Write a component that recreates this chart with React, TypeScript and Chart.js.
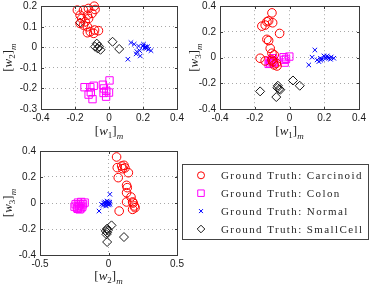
import React, { useEffect, useRef } from 'react';
import { Chart, registerables } from 'chart.js';

Chart.register(...registerables);

// ---------- data ----------
const classNames = ['Carcinoid', 'Colon', 'Normal', 'SmallCell'];
const legendPrefix = 'Ground Truth: ';

// Panel 1: [w1]m (x) vs [w2]m (y)
const carcinoidW1W2 = [
  [-0.087, 0.2], [-0.082, 0.184], [-0.121, 0.189], [-0.15, 0.181], [-0.186, 0.181],
  [-0.17, 0.156], [-0.127, 0.156], [-0.1, 0.165], [-0.16, 0.14], [-0.12, 0.14],
  [-0.14, 0.124], [-0.17, 0.116], [-0.15, 0.108], [-0.127, 0.1], [-0.11, 0.076],
  [-0.085, 0.084], [-0.062, 0.081], [-0.09, 0.068], [-0.127, 0.071],
];
const colonW1W2 = [
  [-0.144, -0.194], [-0.11, -0.194], [-0.09, -0.187], [-0.107, -0.219], [-0.12, -0.23],
  [-0.097, -0.252], [-0.036, -0.182], [-0.03, -0.2], [-0.016, -0.212], [-0.032, -0.222],
  [0.003, -0.161], [0.0, -0.22], [-0.017, -0.24],
];
const normalW1W2 = [
  [0.129, 0.023], [0.148, 0.015], [0.164, -0.021], [0.18, -0.016], [0.16, -0.032],
  [0.184, -0.042], [0.111, -0.058], [0.2, 0.006], [0.203, 0.015], [0.213, 0.003],
  [0.233, -0.01], [0.247, -0.016], [0.227, 0.003], [0.174, 0.006], [0.208, -0.004],
  [0.215, 0.0], [0.22, -0.004],
];
const smallCellW1W2 = [
  [-0.17, 0.12], [-0.072, 0.018], [-0.058, 0.004], [-0.082, 0.003], [-0.05, -0.012],
  [-0.066, -0.006], [0.021, 0.027], [0.06, -0.008],
];

// Panel 2: [w1]m (x) vs [w3]m (y)
const carcinoidW1W3 = [
  [-0.101, 0.348], [-0.14, 0.253], [-0.13, 0.279], [-0.12, 0.286], [-0.097, 0.271],
  [-0.159, 0.245], [-0.057, 0.188], [-0.13, 0.142], [-0.12, 0.132], [-0.111, 0.072],
  [-0.101, 0.034], [-0.088, 0.021], [-0.169, -0.005], [-0.14, -0.026], [-0.101, -0.018],
  [-0.076, -0.044], [-0.088, -0.057], [-0.072, -0.065], [-0.095, -0.031],
];
const colonW1W3 = [
  [-0.115, -0.023], [-0.111, -0.044], [-0.095, -0.005], [-0.088, -0.031], [-0.12, -0.049],
  [-0.034, 0.003], [-0.028, -0.039], [-0.03, -0.018], [-0.001, 0.008], [-0.1, -0.02],
  [-0.02, -0.01], [-0.09, -0.04], [-0.105, -0.03],
];
const normalW1W3 = [
  [0.146, 0.059], [0.111, -0.057], [0.13, 0.003], [0.159, -0.018], [0.169, -0.031],
  [0.178, -0.005], [0.198, 0.013], [0.207, 0.003], [0.217, 0.013], [0.226, -0.005],
  [0.236, -0.013], [0.255, -0.005], [0.188, -0.013], [0.21, -0.005], [0.22, 0.0],
  [0.18, -0.02], [0.24, 0.005],
];
const smallCellW1W3 = [
  [-0.169, -0.263], [-0.067, -0.219], [-0.053, -0.25], [-0.076, -0.307], [0.02, -0.178],
  [0.059, -0.219], [-0.07, -0.235], [-0.06, -0.245],
];

// Panel 3: [w2]m (x) vs [w3]m (y)
const carcinoidW2W3 = [
  [0.059, 0.354], [0.064, 0.272], [0.096, 0.285], [0.113, 0.29], [0.103, 0.264],
  [0.145, 0.233], [0.071, 0.195], [0.132, 0.136], [0.137, 0.118], [0.132, 0.079],
  [0.164, 0.046], [0.132, 0.008], [0.176, 0.008], [0.189, -0.023], [0.194, -0.036],
  [0.176, -0.049], [0.078, -0.062], [0.12, 0.27], [0.18, 0.0],
];
const colonW2W3 = [
  [-0.24, -0.01], [-0.223, 0.003], [-0.211, -0.01], [-0.199, 0.008], [-0.186, -0.01],
  [-0.23, -0.036], [-0.211, -0.049], [-0.191, -0.028], [-0.248, -0.028], [-0.216, -0.023],
  [-0.174, 0.003], [-0.225, -0.045], [-0.2, -0.04],
];
const normalW2W3 = [
  [0.01, 0.067], [-0.069, -0.062], [-0.051, -0.01], [-0.039, -0.018], [-0.02, -0.003],
  [-0.01, 0.003], [0.0, 0.008], [0.01, -0.01], [-0.02, -0.023], [-0.01, 0.015],
  [0.005, -0.003], [-0.027, 0.008], [-0.005, -0.008], [-0.015, -0.005], [0.0, -0.015],
  [-0.035, 0.0], [0.008, 0.005],
];
const smallCellW2W3 = [
  [0.022, -0.172], [-0.01, -0.197], [-0.02, -0.215], [-0.01, -0.228], [-0.015, -0.241],
  [-0.01, -0.3], [0.113, -0.262], [-0.005, -0.21],
];

// tick values
const w1Ticks = [-0.4, -0.2, 0, 0.2, 0.4];
const w2TicksPanel1 = [-0.3, -0.2, -0.1, 0, 0.1, 0.2];
const w3Ticks = [-0.4, -0.2, 0, 0.2, 0.4];
const w2TicksPanel3 = [-0.5, 0, 0.5];

// ---------- styles ----------
const markers = [
  { style: 'circle', radius: 4.3, legendRadius: 3.5, color: '#ff0000' },
  { style: 'rect', radius: 5.2, legendRadius: 4.6, color: '#ff00ff' },
  { style: 'crossRot', radius: 3.2, legendRadius: 2.8, color: '#0000ff' },
  { style: 'rectRot', radius: 4.5, legendRadius: 3.8, color: '#1a1a1a' },
];

const SERIF = '"Liberation Serif", "Times New Roman", serif';
const SANS = '"Liberation Sans", Arial, sans-serif';

function drawMathLabel(ctx: CanvasRenderingContext2D, sub: string, x: number, y: number, rotate: boolean) {
  const big = 13;
  const small = 9;
  const parts = [
    { t: '[', font: `${big}px ${SERIF}`, dy: 0 },
    { t: 'w', font: `italic ${big}px ${SERIF}`, dy: 0 },
    { t: sub, font: `${small}px ${SERIF}`, dy: 3 },
    { t: ']', font: `${big}px ${SERIF}`, dy: 0 },
    { t: 'm', font: `italic ${small}px ${SERIF}`, dy: 4 },
  ];
  ctx.save();
  ctx.translate(x, y);
  if (rotate) ctx.rotate(-Math.PI / 2);
  let total = 0;
  const widths = parts.map((p) => {
    ctx.font = p.font;
    const w = ctx.measureText(p.t).width;
    total += w;
    return w;
  });
  let cx = -total / 2;
  ctx.fillStyle = '#222';
  ctx.textBaseline = 'alphabetic';
  ctx.textAlign = 'left';
  parts.forEach((p, i) => {
    ctx.font = p.font;
    ctx.fillText(p.t, cx, p.dy);
    cx += widths[i];
  });
  ctx.restore();
}

function drawMarker(ctx: CanvasRenderingContext2D, style: string, x: number, y: number, r: number, color: string) {
  ctx.save();
  ctx.strokeStyle = color;
  ctx.lineWidth = 1;
  ctx.beginPath();
  if (style === 'circle') {
    ctx.arc(x, y, r, 0, Math.PI * 2);
  } else if (style === 'rect') {
    const s = r * Math.SQRT1_2;
    ctx.rect(x - s, y - s, 2 * s, 2 * s);
  } else if (style === 'crossRot') {
    const s = r * Math.SQRT1_2;
    ctx.moveTo(x - s, y - s);
    ctx.lineTo(x + s, y + s);
    ctx.moveTo(x + s, y - s);
    ctx.lineTo(x - s, y + s);
  } else {
    ctx.moveTo(x - r, y);
    ctx.lineTo(x, y - r);
    ctx.lineTo(x + r, y);
    ctx.lineTo(x, y + r);
    ctx.closePath();
  }
  ctx.stroke();
  ctx.restore();
}

const framePlugin = {
  id: 'frame',
  afterDraw(chart: any, _args: any, opts: any) {
    const ctx: CanvasRenderingContext2D = chart.ctx;
    const a = chart.chartArea;
    const L0 = Math.round(a.left) + 0.5;
    const T0 = Math.round(a.top) + 0.5;
    const R0 = Math.round(a.right) + 0.5;
    const B0 = Math.round(a.bottom) + 0.5;
    ctx.save();
    ctx.strokeStyle = '#3a3a3a';
    ctx.lineWidth = 1;
    ctx.strokeRect(L0, T0, R0 - L0, B0 - T0);
    // small inward tick marks on all four sides
    const tl = 2.5;
    ctx.beginPath();
    chart.scales.x.ticks.forEach((t: any) => {
      const px = Math.round(chart.scales.x.getPixelForValue(t.value)) + 0.5;
      ctx.moveTo(px, B0); ctx.lineTo(px, B0 - tl);
      ctx.moveTo(px, T0); ctx.lineTo(px, T0 + tl);
    });
    chart.scales.y.ticks.forEach((t: any) => {
      const py = Math.round(chart.scales.y.getPixelForValue(t.value)) + 0.5;
      ctx.moveTo(L0, py); ctx.lineTo(L0 + tl, py);
      ctx.moveTo(R0, py); ctx.lineTo(R0 - tl, py);
    });
    ctx.stroke();
    drawMathLabel(ctx, opts.xSub, (a.left + a.right) / 2, opts.xTitleY, false);
    drawMathLabel(ctx, opts.ySub, opts.yTitleX, (a.top + a.bottom) / 2, true);
    if (opts.legend) {
      const L = opts.legend;
      ctx.strokeStyle = '#444';
      ctx.strokeRect(L.left + 0.5, L.top + 0.5, L.width, L.height);
      classNames.forEach((name, i) => {
        const y = L.firstY + i * L.step;
        const m = markers[i];
        drawMarker(ctx, m.style, L.markerX, y, m.legendRadius, m.color);
        ctx.font = `11px ${SERIF}`;
        (ctx as any).letterSpacing = '1.4px';
        ctx.fillStyle = '#262626';
        ctx.textBaseline = 'alphabetic';
        ctx.textAlign = 'left';
        ctx.fillText(legendPrefix + name, L.textX, y + 3.7);
        (ctx as any).letterSpacing = '0px';
      });
    }
    ctx.restore();
  },
};

const fmt = (v: number) => {
  const n = Number(Number(v).toFixed(2));
  return (n === 0 ? 0 : n).toString();
};

function axis(ticks: number[], isX: boolean, fixedSize: number) {
  return {
    type: 'linear',
    min: ticks[0],
    max: ticks[ticks.length - 1],
    afterBuildTicks: (scale: any) => {
      scale.ticks = ticks.map((v) => ({ value: v }));
    },
    afterFit: (scale: any) => {
      if (isX) {
        scale.height = fixedSize;
        scale.paddingLeft = 0;
        scale.paddingRight = 0;
      } else {
        scale.width = fixedSize;
        scale.paddingTop = 0;
        scale.paddingBottom = 0;
      }
    },
    grid: {
      color: 'rgba(110,110,110,0.6)',
      lineWidth: 1,
      drawTicks: false,
    },
    border: { display: false, dash: [1, 3] },
    ticks: {
      padding: isX ? 3 : 4,
      color: '#1a1a1a',
      font: { family: SANS, size: 10 },
      callback: (v: any) => fmt(v),
      autoSkip: false,
      maxRotation: 0,
    },
  };
}

type PanelCfg = {
  left: number; top: number; width: number; height: number;
  area: { left: number; top: number; right: number; bottom: number };
  xTicks: number[]; yTicks: number[];
  series: number[][][];
  xSub: string; ySub: string; xTitleY: number; yTitleX: number;
  legend?: any;
};

const panels: PanelCfg[] = [
  {
    left: 0, top: 0, width: 187, height: 143,
    area: { left: 41, top: 6, right: 177, bottom: 109 },
    xTicks: w1Ticks, yTicks: w2TicksPanel1,
    series: [carcinoidW1W2, colonW1W2, normalW1W2, smallCellW1W2],
    xSub: '1', ySub: '2', xTitleY: 135, yTitleX: 11.5,
  },
  {
    left: 187, top: 0, width: 187, height: 143,
    area: { left: 33, top: 6, right: 172, bottom: 109 },
    xTicks: w1Ticks, yTicks: w3Ticks,
    series: [carcinoidW1W3, colonW1W3, normalW1W3, smallCellW1W3],
    xSub: '1', ySub: '3', xTitleY: 135, yTitleX: 10.5,
  },
  {
    left: 0, top: 143, width: 374, height: 144,
    area: { left: 40, top: 8, right: 177, bottom: 112 },
    xTicks: w2TicksPanel3, yTicks: w3Ticks,
    series: [carcinoidW2W3, colonW2W3, normalW2W3, smallCellW2W3],
    xSub: '2', ySub: '3', xTitleY: 137, yTitleX: 11.5,
    legend: { left: 182, top: 21, width: 186, height: 75, firstY: 32.3, step: 17.9, markerX: 201, textX: 221 },
  },
];

function Panel({ cfg }: { cfg: PanelCfg }) {
  const ref = useRef<HTMLCanvasElement>(null);
  useEffect(() => {
    const canvas = ref.current!;
    const a = cfg.area;
    const chart = new Chart(canvas, {
      type: 'scatter',
      data: {
        datasets: cfg.series.map((pts, i) => ({
          label: legendPrefix + classNames[i],
          data: pts.map(([x, y]) => ({ x, y })),
          pointStyle: markers[i].style as any,
          pointRadius: markers[i].radius,
          pointBorderColor: markers[i].color,
          pointBackgroundColor: 'rgba(0,0,0,0)',
          pointBorderWidth: 1,
          borderColor: markers[i].color,
          backgroundColor: 'rgba(0,0,0,0)',
          showLine: false,
          clip: false as any,
        })),
      },
      options: {
        responsive: false,
        maintainAspectRatio: false,
        animation: false,
        events: [],
        layout: { padding: { left: 0, top: a.top, right: cfg.width - a.right, bottom: 0 } },
        scales: {
          x: axis(cfg.xTicks, true, cfg.height - a.bottom) as any,
          y: axis(cfg.yTicks, false, a.left) as any,
        },
        plugins: {
          legend: { display: false },
          tooltip: { enabled: false },
          frame: {
            xSub: cfg.xSub, ySub: cfg.ySub, xTitleY: cfg.xTitleY, yTitleX: cfg.yTitleX, legend: cfg.legend,
          },
        } as any,
      },
      plugins: [framePlugin],
    });
    return () => chart.destroy();
  }, []);
  return (
    <canvas
      ref={ref}
      width={cfg.width}
      height={cfg.height}
      style={{ position: 'absolute', left: cfg.left, top: cfg.top, width: cfg.width, height: cfg.height }}
    />
  );
}

export default function App() {
  return (
    <div style={{ position: 'fixed', left: 0, top: 0, width: 374, height: 287, background: '#fff', overflow: 'hidden' }}>
      {panels.map((p, i) => (
        <Panel key={i} cfg={p} />
      ))}
    </div>
  );
}
